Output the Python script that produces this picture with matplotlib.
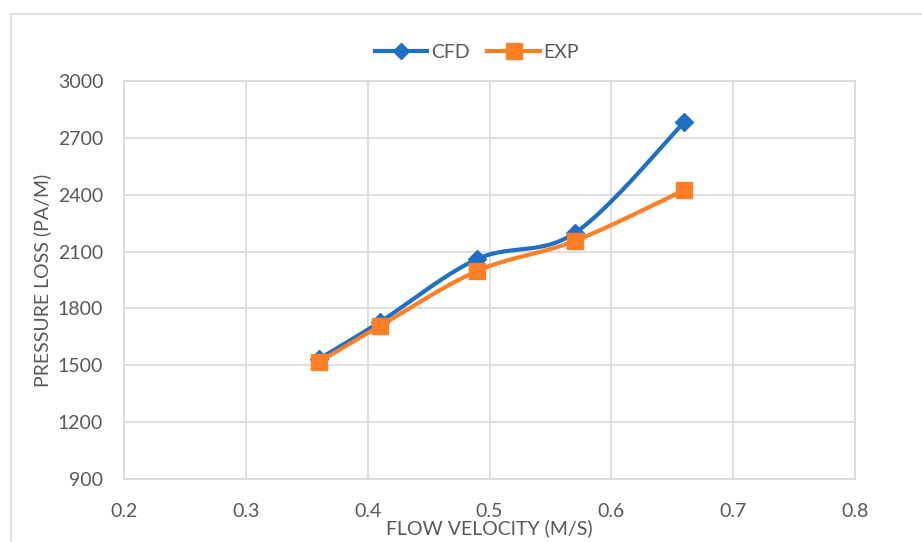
import numpy as np
import matplotlib
matplotlib.use('Agg')
import matplotlib.pyplot as plt
from matplotlib.patches import Rectangle

plt.rcParams['font.family'] = ['Lato', 'DejaVu Sans']

velocity = [0.36, 0.41, 0.49, 0.57, 0.66]
cfd = [1533, 1728, 2061, 2198, 2784]
exp = [1517, 1707, 1998, 2156, 2425]

x_ticks = [0.2, 0.3, 0.4, 0.5, 0.6, 0.7, 0.8]
y_ticks = [900, 1200, 1500, 1800, 2100, 2400, 2700, 3000]

grey = '#595959'
grid_col = '#d9d9d9'


# Excel風のスムージング (Catmull-Rom -> Bezier)
def smooth(xs, ys, n=40):
    p = np.column_stack([xs, ys]).astype(float)
    out = [p[0]]
    for i in range(len(p) - 1):
        p0 = p[i - 1] if i > 0 else p[i]
        p1 = p[i]
        p2 = p[i + 1]
        p3 = p[i + 2] if i + 2 < len(p) else p[i + 1]
        c1 = p1 + (p2 - p0) / 6
        c2 = p2 - (p3 - p1) / 6
        t = np.linspace(0, 1, n)[1:, None]
        seg = ((1 - t) ** 3) * p1 + 3 * ((1 - t) ** 2) * t * c1 + 3 * (1 - t) * t ** 2 * c2 + t ** 3 * p2
        out.extend(seg)
    out = np.array(out)
    return out[:, 0], out[:, 1]


fig = plt.figure(figsize=(9.22, 5.42), dpi=100)
ax = fig.add_axes([124 / 922, 1 - 479 / 542, (855 - 124) / 922, (479 - 81) / 542])

# 外枠
fig.patches.append(Rectangle((11 / 922, -0.1), 1.2, 1 - 14 / 542 + 0.1, transform=fig.transFigure,
                             fill=False, edgecolor=grid_col, linewidth=1.2))

sx, sy = smooth(velocity, cfd)
ax.plot(sx, sy, color='#1f6fc5', linewidth=3, zorder=3, solid_capstyle='round')
ax.plot(velocity, cfd, linestyle='none', marker='D', markersize=9, color='#1f6fc5', zorder=4)
sx, sy = smooth(velocity, exp)
ax.plot(sx, sy, color='#ff7f27', linewidth=3, zorder=3, solid_capstyle='round')
ax.plot(velocity, exp, linestyle='none', marker='s', markersize=12, color='#ff7f27', zorder=5)

# 凡例用
ax.plot([], [], color='#1f6fc5', linewidth=3, marker='D', markersize=8, label='CFD')
ax.plot([], [], color='#ff7f27', linewidth=3, marker='s', markersize=11, label='EXP')

ax.set_xlim(0.2, 0.8)
ax.set_ylim(900, 3000)
ax.set_xticks(x_ticks)
ax.set_yticks(y_ticks)
ax.set_xticklabels([f'{v:.1f}' for v in x_ticks])
ax.grid(True, color=grid_col, linewidth=1.2)
ax.set_axisbelow(True)
for s in ax.spines.values():
    s.set_color(grid_col)
    s.set_linewidth(1.2)
ax.tick_params(length=0, labelsize=14, labelcolor=grey)
ax.tick_params(axis='y', pad=15)
ax.tick_params(axis='x', pad=17)

ax.set_xlabel('FLOW VELOCITY (M/S)', fontsize=14, color=grey)
ax.set_ylabel('PRESSURE LOSS (PA/M)', fontsize=14, color=grey)
ax.xaxis.set_label_coords(0.5, -0.1)
ax.yaxis.set_label_coords(-0.1, 0.5)

handles, labels = ax.get_legend_handles_labels()
leg = fig.legend(handles, labels, loc='center', bbox_to_anchor=(477 / 922, 1 - 52 / 542),
                 ncol=2, frameon=False, fontsize=14, handlelength=2.7, columnspacing=0.9,
                 handletextpad=0.2)
for t in leg.get_texts():
    t.set_color(grey)

fig.savefig('out.png', dpi=100)
